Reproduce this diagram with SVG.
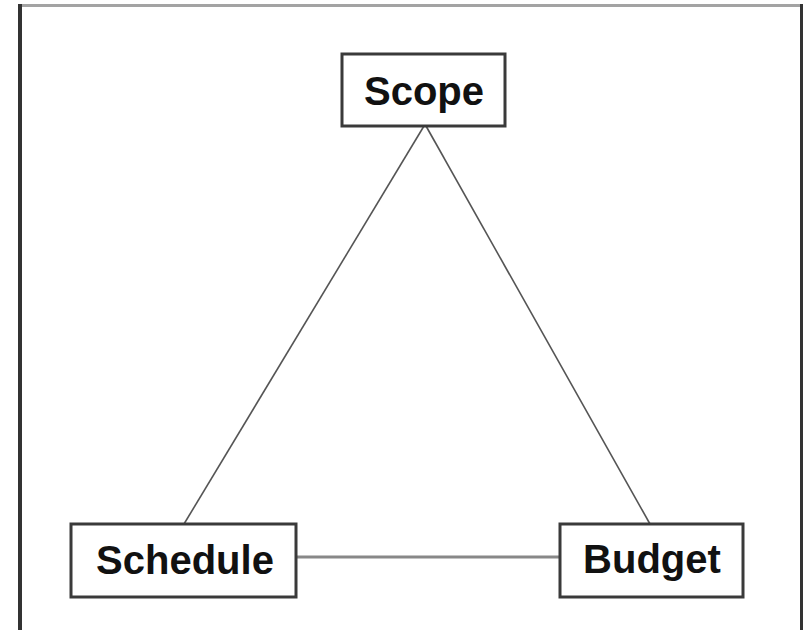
<svg xmlns="http://www.w3.org/2000/svg" width="808" height="630" viewBox="0 0 808 630">
  <style>
    .box { fill: #ffffff; stroke: #3a3a3a; stroke-width: 3; }
    .label { font-family: "Liberation Sans", Arial, sans-serif; font-weight: bold; font-size: 40px; fill: #111111; text-anchor: middle; }
    .edge { stroke: #555555; stroke-width: 1.6; fill: none; }
    .base { stroke: #888888; stroke-width: 3; fill: none; }
  </style>
  <rect width="808" height="630" fill="#ffffff"/>

  <!-- outer frame (open at the bottom) -->
  <g id="frame">
    <line x1="18" y1="5.5" x2="803" y2="5.5" stroke="#a3a3a3" stroke-width="3"/>
    <line x1="20" y1="4" x2="20" y2="630" stroke="#333333" stroke-width="4"/>
    <line x1="801.5" y1="4" x2="801.5" y2="630" stroke="#333333" stroke-width="3"/>
  </g>

  <!-- connectors of the triangle -->
  <g id="connectors">
    <line class="edge" x1="424" y1="126" x2="184" y2="524"/>
    <line class="edge" x1="426" y1="126" x2="650" y2="524"/>
    <line class="base" x1="297" y1="557" x2="559" y2="557"/>
  </g>

  <g id="scope">
    <rect class="box" x="342" y="54" width="163" height="72"/>
    <text class="label" x="424" y="105">Scope</text>
  </g>

  <g id="schedule">
    <rect class="box" x="71" y="524" width="225" height="73"/>
    <text class="label" x="185" y="574">Schedule</text>
  </g>

  <g id="budget">
    <rect class="box" x="560" y="524" width="183" height="73"/>
    <text class="label" x="652" y="573">Budget</text>
  </g>
</svg>
